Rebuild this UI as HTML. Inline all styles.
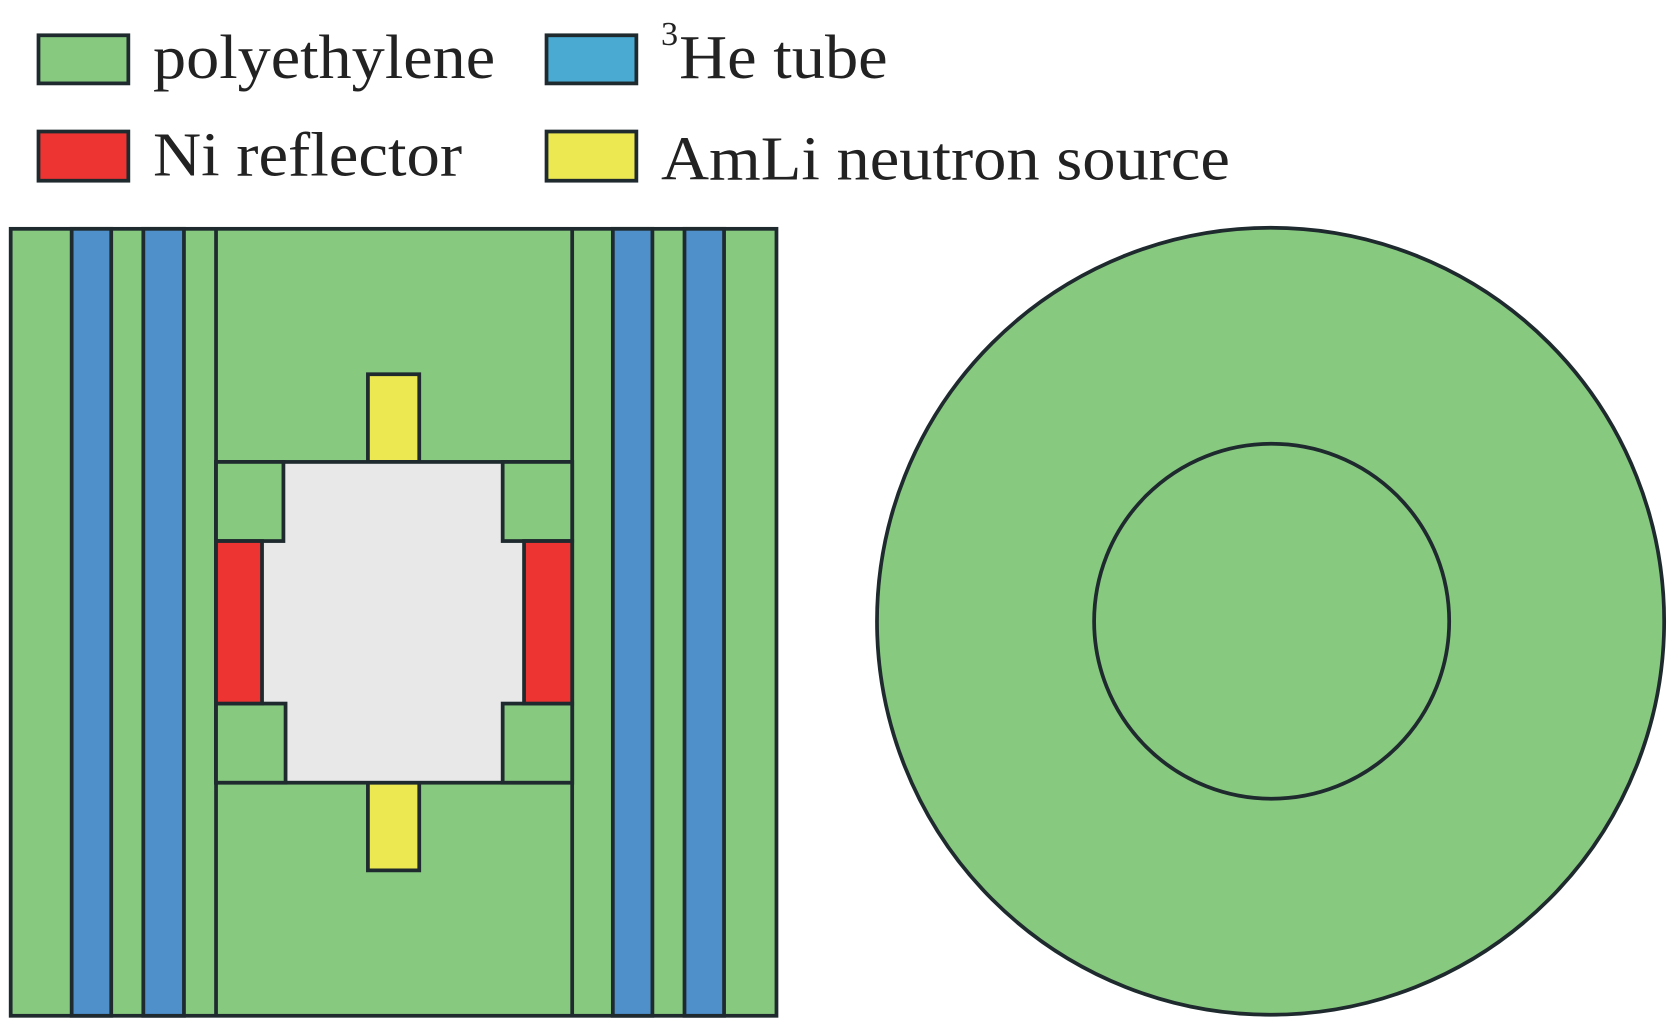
<!DOCTYPE html>
<html><head><meta charset="utf-8"><style>html,body{margin:0;padding:0;background:#fff;overflow:hidden}svg{display:block}</style></head>
<body>
<svg width="1677" height="1019" viewBox="0 0 1568 953" preserveAspectRatio="none" xmlns="http://www.w3.org/2000/svg">
<g stroke="#1e2a2e" stroke-width="3.5">
<rect x="36" y="33" width="84" height="45" fill="#88c980"/>
<rect x="511" y="33" width="84" height="45" fill="#4aaad2"/>
<rect x="36" y="123" width="84" height="46" fill="#ee3432"/>
<rect x="511" y="123" width="84" height="46" fill="#ece852"/>
</g>
<g font-family="Liberation Serif, serif" font-size="58" fill="#222">
<text x="143" y="73" textLength="320" lengthAdjust="spacingAndGlyphs">polyethylene</text>
<text x="618" y="42" font-size="32">3</text>
<text x="635" y="73" textLength="195" lengthAdjust="spacingAndGlyphs">He tube</text>
<text x="143" y="164" textLength="289" lengthAdjust="spacingAndGlyphs">Ni reflector</text>
<text x="618" y="168" textLength="532" lengthAdjust="spacingAndGlyphs">AmLi neutron source</text>
</g>
<g stroke="#1e2a2e" stroke-width="3.5">
<rect x="10" y="214" width="716" height="736" fill="#88c980"/>
<rect x="67" y="214" width="37" height="736" fill="#4f8fca"/>
<rect x="134" y="214" width="38" height="736" fill="#4f8fca"/>
<line x1="202" y1="214" x2="202" y2="950"/>
<line x1="535" y1="214" x2="535" y2="950"/>
<rect x="573" y="214" width="37" height="736" fill="#4f8fca"/>
<rect x="640" y="214" width="37" height="736" fill="#4f8fca"/>
<rect x="344" y="350" width="48" height="82" fill="#ece852"/>
<rect x="344" y="732" width="48" height="82" fill="#ece852"/>
<rect x="202" y="432" width="333" height="300" fill="#e8e8e8"/>
<rect x="202" y="432" width="63" height="74" fill="#88c980"/>
<rect x="470" y="432" width="65" height="74" fill="#88c980"/>
<rect x="202" y="658" width="65" height="74" fill="#88c980"/>
<rect x="470" y="658" width="65" height="74" fill="#88c980"/>
<rect x="202" y="506" width="43" height="152" fill="#ee3432"/>
<rect x="490" y="506" width="45" height="152" fill="#ee3432"/>
<circle cx="1188" cy="581" r="368" fill="#88c980"/>
<circle cx="1189" cy="581" r="166" fill="#88c980"/>
</g>
</svg>
</body></html>
